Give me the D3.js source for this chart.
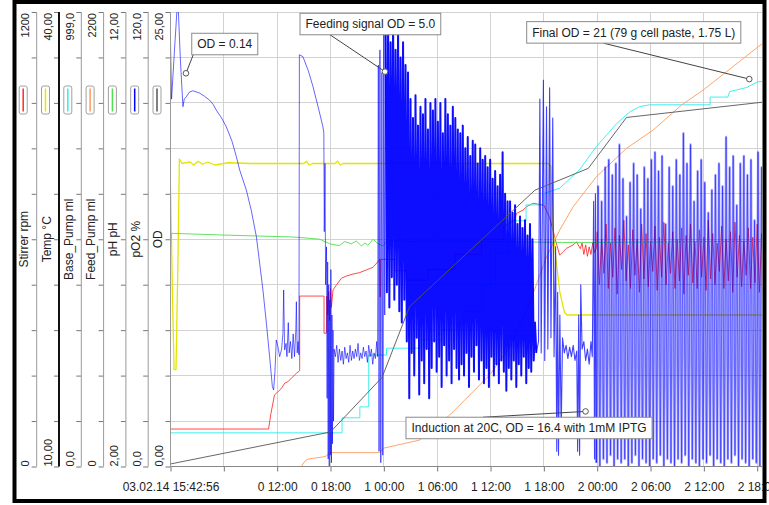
<!DOCTYPE html>
<html><head><meta charset="utf-8">
<script src="https://cdn.jsdelivr.net/npm/d3@7"></script>
<style>
html,body{margin:0;padding:0;background:#fff;}
svg{display:block;font-family:"Liberation Sans",Arial,sans-serif;}
</style></head><body>
<svg id="chart" width="769" height="505"></svg>
<script>
// ---- axes ----
const axisNames = ["Stirrer rpm","Temp °C","Base_Pump ml","Feed_Pump ml","pH pH","pO2 %","OD"];
const axisMin = [0,10,0,0,2,0,0];
const axisMax = [1200,40,999,2200,12,120,25];
const axisMinLabels = ["0","10,00","0,0","0","2,00","0,0","0,00"];
const axisMaxLabels = ["1200","40,00","999,0","2200","12,00","120,0","25,00"];
const seriesColors = ["#ff2a2a","#e4e400","#30ecec","#ff9a5c","#4ee04e","#0000ff","#555555"];

// elapsed time (hours) and its tick labels
const timeTicks = [0,6,12,18,24,30,36,42,48,54,60,66];
const timeLabels = ["03.02.14 15:42:56","","0 12:00","0 18:00","1 00:00","1 06:00","1 12:00","1 18:00","2 00:00","2 06:00","2 12:00","2 18:00"];

// ---- series: [hours, value] ----
const stirPts = [[0,99],[11.03,99],[11.3,140],[11.7,189],[11.98,195],[12.47,206],[12.85,220],[13.2,224],[13.6,233],[14.16,246],[14.53,253],[14.53,450],[17.27,450],[17.27,352],[17.54,352],[17.57,450],[17.7,400],[17.8,462],[17.9,385],[18.0,470],[18.1,420],[18.28,466],[18.66,479],[19.22,497],[19.79,503],[20.53,508],[21.28,512],[22.04,519],[22.78,526],[23.34,541],[23.53,547],[23.56,448],[23.62,448],[23.65,547],[25.23,547],[25.23,517],[26.54,517],[26.54,492],[29,492],[29,520],[32,520],[32,560],[35,560],[35,600],[37.5,600],[37.5,635],[38.17,642],[38.73,651],[38.92,668],[39.66,677],[40.05,686],[40.79,695],[42.0,690],[42.6,660],[43.04,624],[43.3,598],[43.78,558],[44.16,567],[44.55,576],[45.29,585],[45.67,593],[46.1,575],[46.3,590],[46.5,560],[46.7,585],[46.9,555],[47.1,580],[47.3,560],[47.5,590],[47.7,565],[47.9,575]];
const stirLateStart = 48.0, stirLateStep = 0.25;
const stirLateValues = [
620,480, 600,510, 640,470, 590,500, 630,455, 610,520, 650,490, 585,470, 625,505, 600,460,
640,495, 615,475, 595,515, 635,465, 605,500, 645,480, 590,510, 620,470, 600,490, 630,455,
610,505, 640,485, 595,470, 625,500, 605,465, 650,495, 615,480, 590,515, 635,470, 600,490,
620,460, 645,500, 610,475, 595,505, 630,470, 605,485, 640,460, 615,490];

const tempPts = [[0,28.5],[0.2,22],[0.4,16.4],[0.62,16.4],[0.85,24],[1.0,30.3],[1.3,30.0],[2.2,30.1],[2.6,29.9],[3.1,30.15],[3.6,29.95],[4.2,30.1],[5.0,29.9],[6.5,30.05],[9,30.0],[15,30.0],[15.3,30.15],[15.6,29.9],[16,30.0],[18.5,30.0],[18.8,30.15],[19.1,29.9],[19.4,30.0],[30,30.0],[42.5,30.0],[42.8,29.8],[43.0,25.8],[43.3,24.0],[43.8,21.5],[44.3,20.2],[44.6,20.0],[66.8,20.0]];

const basePts = [[0,74],[19.3,74],[19.3,107],[21.3,107],[21.3,131],[22.3,131],[22.3,245],[24.3,245],[24.3,260],[28.2,260],[28.2,278],[30.5,278],[30.5,300],[33,300],[33,340],[35,340],[35,400],[36.5,400],[36.5,470],[38,470],[38,540],[40,540],[40,575],[42,575],[42,600],[43.8,612],[46.0,652],[47.9,703],[50.2,754],[51.7,780],[52.8,791],[53.9,795],[60.7,795],[60.7,812],[62.7,812],[62.9,824],[64.8,833],[66.1,846],[66.8,846]];

const feedPts = [[0,0],[14.72,0],[15.1,25],[15.46,36],[17.12,46],[17.5,50],[17.9,67],[23.53,67],[23.9,88],[28.03,128],[31.41,249],[35.91,443],[38.16,580],[40.4,790],[42.3,1015],[43.79,1145],[45.29,1257],[47.92,1403],[51.3,1540],[54.3,1629],[57.5,1750],[59.92,1822],[66.8,2055]];

const phPts = [[0,6.8],[0.12,7.13],[2.5,7.115],[6.4,7.09],[10,7.07],[13.8,7.05],[15.7,7.02],[16.8,7.0],[17.9,6.9],[19.0,6.86],[19.6,6.95],[20.35,6.90],[20.9,6.96],[21.5,6.85],[21.85,6.92],[22.2,6.87],[22.8,7.0],[23.35,6.9],[23.9,6.85],[24.3,6.95],[25.8,6.98],[26.55,6.95],[30,6.96],[35,6.95],[40,6.94],[44,6.93],[48,6.93],[55,6.94],[62,6.95],[66.8,6.95]];

const pO2Early = [[0.00,112],[0.12,97],[0.45,110],[0.82,124],[1.1,108],[1.4,95],[1.55,97],[1.78,97.6],[2.1,98.8],[2.52,99.2],[2.9,98.9],[3.28,98.6],[3.8,97.8],[4.4,96.7],[4.8,95.6],[5.15,94.1],[5.7,92.2],[6.28,89.7],[6.9,86],[7.41,81.8],[7.78,78.3],[8.53,73.0],[9.1,67.5],[9.66,60.7],[10.4,46.6],[10.8,37.5],[11.15,29.0],[11.46,21.1],[11.6,20.2],[11.75,25],[11.9,33.4],[12.09,31.6],[12.28,29.0],[12.5,31],[12.65,35.2],[12.73,46.6],[12.84,30.8],[13.0,32.5],[13.1,29],[13.25,38],[13.35,30],[13.5,33],[13.65,28.5],[13.8,35],[13.95,29],[14.1,36],[14.16,43.5],[14.25,30],[14.35,33],[14.45,29.5],[14.5,108.7],[14.9,108.2],[15.5,104.5],[16.03,100.3],[16.6,95],[17.15,89.7],[17.25,88],[17.3,62],[17.38,80],[17.45,48],[17.55,58],[17.62,18],[17.68,54],[17.74,2],[17.8,48],[17.86,0],[17.92,44],[17.98,3],[18.04,52],[18.1,1],[18.16,40],[18.22,6],[18.28,36],[18.34,12],[18.4,31],
[18.55,29],[18.7,32],[18.85,27.5],[19.0,31],[19.15,28],[19.3,30.5],[19.45,27],[19.6,31.5],[19.75,28.5],[19.9,30],[20.05,27.5],[20.2,32],[20.35,28],[20.5,30.5],[20.65,28.5],[20.8,31],[20.95,29],[21.1,32.5],[21.25,28],[21.4,30],[21.55,28.5],[21.7,31.5],[21.85,29],[22.0,30.5],[22.15,27.5],[22.3,32],[22.45,29],[22.6,31],[22.75,27],[22.9,30],[23.05,28.5],[23.2,33],[23.3,29],
[23.38,106],[23.46,4],[23.56,110],[23.66,1],[23.78,104],[23.88,3],[24.0,115],[24.1,40]];

// fed-batch phase, logged every 0.14 h
const pO2MidStart = 24.2, pO2MidStep = 0.14;
const pO2MidValues = [
114,46, 117,42, 112,50, 118,44, 110,48, 115,41,
108,38, 112,44, 106,33, 104,18,
97,30, 92,24, 98,34, 90,19, 95,28, 93,22, 97,31, 89,18, 96,26, 94,33,
97,25, 91,29, 96,21, 88,32, 97,24, 93,28, 90,22, 95,31, 92,26, 89,23,
88,27, 90,24, 84,30, 87,21, 82,29, 86,25, 85,32, 80,23, 84,28, 81,22,
82,26, 79,21, 81,29, 76,24, 78,27, 74,22, 77,28, 83,25, 72,20, 70,26,
70,23, 67,28, 69,21, 64,27, 66,24, 63,29, 65,22, 61,26, 64,25, 60,28, 38];

const pO2Transition = [[41.15,30],[41.4,33],[41.55,97],[41.7,30],[41.95,102],[42.1,28],[42.3,95],[42.45,31],[42.65,100],[42.8,34],[43.0,92],[43.15,29],[43.32,58],[43.45,4],[43.55,46],[43.65,3],[43.8,40],[43.95,9],[44.1,34],[44.3,30],[44.5,32],[44.7,28.5],[44.9,31.5],[45.1,29],[45.3,32],[45.5,28],[45.7,30.5],[45.8,4],[45.92,40],[46.02,3],[46.15,48],[46.3,31],[46.5,33],[46.7,28],[46.9,31],[47.1,27],[47.3,33],[47.45,29],[47.6,70],[47.7,2],[47.8,72]];

// induction phase, logged every 0.2 h
const pO2LateStart = 47.9, pO2LateStep = 0.2;
const pO2LateValues = [
1,74, 0,70, 2,79, 1,81, 3,77, 0,80, 2,85, 1,76, 2,66, 0,75,
1,80, 3,77, 0,68, 2,79, 1,76, 0,81, 2,83, 1,78, 3,82, 0,64,
2,79, 1,74, 0,81, 2,77, 1,88, 3,80, 0,85, 2,70, 1,78, 0,81,
2,75, 1,67, 3,73, 0,77, 2,80, 1,74, 0,87, 2,79, 1,82, 3,69,
0,80, 2,82, 1,77, 0,81, 2,65, 1,83, 0,79, 2,80];

const odPts = [[0,0.14],[18,1.9],[23.8,4.9],[26.9,8.8],[41,15.2],[47,16.4],[51.3,19.2],[66.8,20.05]];

// ---- annotations (positions in hours / OD units) ----
const noteTexts = ["OD = 0.14","Feeding signal OD = 5.0","Final OD = 21 (79 g cell paste, 1.75 L)","Induction at 20C, OD = 16.4 with 1mM IPTG"];
const noteMarkerT = [1.74,24.13,65.11,46.69];
const noteMarkerOD = [21.63,21.72,21.31,3.03];
const noteBoxT = [2.39,14.57,40.07,26.49];
const noteBoxOD = [23.83,24.93,24.47,2.71];
const noteLeadDx = [1.5,30,76.6,77];
const noteLeadEdge = ["bottom","bottom","bottom","top"];

// ---- drawing ----
const svg = d3.select("#chart");
const P = {left:170.5, right:762, top:12, bottom:466.5};
const x = d3.scaleLinear().domain([0,66]).range([170.5,757.2]);
const yS = axisMin.map((m,i)=>d3.scaleLinear().domain([m,axisMax[i]]).range([P.bottom,P.top]));
const axisX = i => 36.7 + i*22.3;

svg.append("rect").attr("width",769).attr("height",505).attr("fill","#fff");

// grid
const grid = svg.append("g");
const gridVals = d3.range(11).map(k=>k*2.5);
grid.selectAll("line.h").data(gridVals).join("line")
  .attr("x1",P.left).attr("x2",P.right)
  .attr("y1",d=>yS[6](d)).attr("y2",d=>yS[6](d))
  .attr("stroke","#d2d2d2").attr("stroke-width",1).attr("shape-rendering","crispEdges");
grid.selectAll("line.v").data(timeTicks.slice(1)).join("line")
  .attr("x1",d=>x(d)).attr("x2",d=>x(d))
  .attr("y1",P.top).attr("y2",P.bottom)
  .attr("stroke","#d2d2d2").attr("stroke-width",1).attr("shape-rendering","crispEdges");

svg.append("clipPath").attr("id","plotClip").append("rect")
  .attr("x",P.left).attr("y",P.top).attr("width",P.right-P.left).attr("height",P.bottom-P.top);
const plot = svg.append("g").attr("clip-path","url(#plotClip)");

const seq = (start,step,vals)=>vals.map((v,i)=>[start+i*step,v]);
const stirAll = stirPts.concat(seq(stirLateStart,stirLateStep,stirLateValues));
const pO2Mid = seq(pO2MidStart,pO2MidStep,pO2MidValues);
const pO2Late = seq(pO2LateStart,pO2LateStep,pO2LateValues);

const lineFor = i => d3.line().x(d=>x(d[0])).y(d=>yS[i](d[1]));
const draw = (data,i,w,op)=>plot.append("path").datum(data)
  .attr("d",lineFor(i)).attr("fill","none").attr("stroke",seriesColors[i])
  .attr("stroke-width",w).attr("stroke-opacity",op).attr("stroke-linejoin","round");

draw(stirAll,0,1,0.85);
draw(tempPts,1,1.3,1);
draw(basePts,2,1,0.9);
draw(feedPts,3,1,0.9);
draw(phPts,4,1,0.9);
// pO2 trace, drawn per phase so the densely logged phases read as solid bands
draw(pO2Early.concat([pO2Mid[0]]),5,1,0.6);
draw(pO2Mid.concat(pO2Transition.slice(0,1)),5,2,0.95);
draw(pO2Transition.concat([pO2Late[0]]),5,1.1,0.75);
draw(pO2Late,5,2.4,0.34);   // soft body of the oscillation
draw(pO2Late,5,0.7,0.6);    // crisp trace on top
draw(odPts,6,1,0.9);

// annotations
const notes = svg.append("g").attr("font-size",12).attr("fill","#222");
noteTexts.forEach((t,i)=>{
  const bx = x(noteBoxT[i]), by = yS[6](noteBoxOD[i]);
  const mx = x(noteMarkerT[i]), my = yS[6](noteMarkerOD[i]);
  const g = notes.append("g");
  const rect = g.append("rect");
  const txt = g.append("text").attr("x",bx+5.5).attr("y",by+15).text(t);
  const w = txt.node().getComputedTextLength()+11, h = 21.5;
  rect.attr("x",bx).attr("y",by).attr("width",w).attr("height",h)
    .attr("fill","#fff").attr("stroke","#8a8a8a").attr("stroke-width",1);
  const ly = noteLeadEdge[i]==="bottom" ? by+h : by;
  g.insert("line","rect").attr("x1",bx+noteLeadDx[i]).attr("y1",ly).attr("x2",mx).attr("y2",my)
    .attr("stroke","#444").attr("stroke-width",1);
  g.append("circle").attr("cx",mx).attr("cy",my).attr("r",2.8)
    .attr("fill","#fff").attr("stroke","#555").attr("stroke-width",1);
});

// left value axes
axisNames.forEach((name,i)=>{
  const ax = axisX(i);
  const g = svg.append("g").attr("transform",`translate(${ax},0)`);
  const tv = d3.range(11).map(k=>axisMin[i]+k*(axisMax[i]-axisMin[i])/10);
  g.call(d3.axisLeft(yS[i]).tickValues(tv).tickSize(5).tickFormat(""));
  g.select(".domain").remove();
  g.selectAll(".tick line").attr("stroke","#777");
  g.append("line").attr("x1",0).attr("x2",0).attr("y1",P.top).attr("y2",P.bottom)
    .attr("stroke", i===1 ? "#111" : "#9a9a9a").attr("stroke-width", i===1 ? 2 : 1);
  // legend swatch
  g.append("rect").attr("x",-17.5).attr("y",86).attr("width",8).attr("height",28).attr("rx",2)
    .attr("fill","#fff").attr("stroke","#a0a0a0");
  g.append("line").attr("x1",-13.5).attr("x2",-13.5).attr("y1",88.5).attr("y2",111.5)
    .attr("stroke",seriesColors[i]).attr("stroke-width",1.5);
  // labels
  g.append("text").attr("transform",`translate(-7.5,${P.top+1}) rotate(-90)`)
    .attr("text-anchor","end").attr("font-size",11).attr("fill","#222").text(axisMaxLabels[i]);
  g.append("text").attr("transform",`translate(-7.5,${P.bottom}) rotate(-90)`)
    .attr("text-anchor","start").attr("font-size",11).attr("fill","#222").text(axisMinLabels[i]);
  g.append("text").attr("transform",`translate(-8.5,${(P.top+P.bottom)/2}) rotate(-90)`)
    .attr("text-anchor","middle").attr("font-size",12).attr("fill","#222").text(name);
});

// time axis
const xa = svg.append("g").attr("transform",`translate(0,${P.bottom})`);
xa.call(d3.axisBottom(x).tickValues(timeTicks).tickSize(5).tickFormat((d,i)=>timeLabels[i]));
xa.select(".domain").remove();
xa.selectAll(".tick line").attr("stroke","#777");
xa.selectAll(".tick text").attr("font-size",12).attr("fill","#222").attr("y",16)
  .attr("font-family","'Liberation Sans',Arial,sans-serif");
xa.append("line").attr("x1",P.left).attr("x2",P.right).attr("y1",0).attr("y2",0).attr("stroke","#888");

// outer frame
svg.append("rect").attr("x",14.5).attr("y",2).attr("width",750).attr("height",499)
  .attr("fill","none").attr("stroke","#000").attr("stroke-width",4);
</script></body></html>
